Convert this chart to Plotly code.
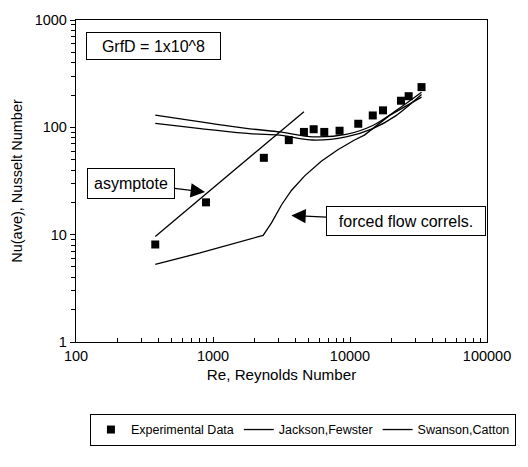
import plotly.graph_objects as go

# Measured average Nusselt numbers vs Reynolds number
re_exp = [379, 889, 2350, 3575, 4610, 5430, 6490, 8390, 11490, 14660, 17410, 23550, 26800, 33270]
nu_exp = [8.1, 20, 52, 76, 90.6, 96, 90.6, 93, 108, 129, 144, 177, 195, 237]

# Mixed-convection correlations
re_jackson = [379, 1858, 3069, 5360, 9370, 14660, 21680, 33270]
nu_jackson = [130, 96.9, 90.7, 81.6, 85.9, 104, 143, 212]

re_swanson = [379, 1858, 3069, 5360, 9370, 14660, 21680, 33270]
nu_swanson = [109, 87.3, 84.6, 76.2, 81.6, 97.3, 128.5, 202]

# Forced flow correlation (laminar branch, then turbulent branch)
re_forced = [379, 804, 2323, 2673, 3160, 3733, 4667, 6170, 8150, 10790, 12740, 19360, 33270]
nu_forced = [5.3, 6.76, 9.85, 12.9, 18.9, 25.8, 35.3, 48.4, 61.8, 76.2, 84.6, 128.5, 191]

# Low-Re asymptote
re_asym = [379, 4610]
nu_asym = [9.6, 140]

FONT = "Liberation Sans, Arial, Helvetica, sans-serif"
LW = 1.3


def minor_ticks(first_decade, last_decade):
    """Positions 2..9 x 10^k on a log axis."""
    return [m * 10 ** k for k in range(first_decade, last_decade) for m in range(2, 10)]


fig = go.Figure()

fig.add_trace(go.Scatter(
    x=re_exp, y=nu_exp, mode="markers", name="Experimental Data",
    marker=dict(symbol="square", size=8, color="black"),
))
fig.add_trace(go.Scatter(
    x=re_jackson, y=nu_jackson, mode="lines", name="Jackson,Fewster",
    line=dict(color="black", width=LW, shape="spline", smoothing=0.8),
))
fig.add_trace(go.Scatter(
    x=re_swanson, y=nu_swanson, mode="lines", name="Swanson,Catton",
    line=dict(color="black", width=LW, shape="spline", smoothing=0.8),
))
fig.add_trace(go.Scatter(
    x=re_forced, y=nu_forced, mode="lines", showlegend=False,
    line=dict(color="black", width=LW),
))
fig.add_trace(go.Scatter(
    x=re_asym, y=nu_asym, mode="lines", showlegend=False,
    line=dict(color="black", width=LW),
))

annot_font = dict(family=FONT, size=16, color="black")
fig.add_annotation(
    xref="paper", yref="paper", x=0.188, y=0.918,
    xanchor="center", yanchor="middle",
    text="GrfD = 1x10^8", showarrow=False, font=annot_font,
    bordercolor="black", borderwidth=1, borderpad=0, width=133, height=26,
    bgcolor="white",
)
fig.add_annotation(
    x=2.942, y=1.397, xref="x", yref="y",
    text="asymptote", showarrow=True, ax=-74, ay=-8.8,
    arrowhead=2, arrowsize=2.4, arrowwidth=1.2, arrowcolor="black",
    font=annot_font, bordercolor="black", borderwidth=1, borderpad=0,
    width=86, height=29, bgcolor="white",
)
fig.add_annotation(
    x=3.572, y=1.179, xref="x", yref="y",
    text="forced flow correls.", showarrow=True, ax=114.3, ay=5.7,
    arrowhead=2, arrowsize=2.4, arrowwidth=1.2, arrowcolor="black",
    font=annot_font, bordercolor="black", borderwidth=1, borderpad=0,
    width=158, height=28, bgcolor="white",
)

fig.update_layout(
    width=528, height=467,
    margin=dict(l=76, r=40, t=12, b=125),
    paper_bgcolor="white", plot_bgcolor="white",
    font=dict(family=FONT, size=14.5, color="black"),
    legend=dict(
        orientation="h", x=1.0704, xanchor="right", y=-0.273, yanchor="middle",
        bordercolor="black", borderwidth=1, bgcolor="white",
        font=dict(family=FONT, size=12.5, color="black"),
        tracegroupgap=0, itemwidth=30,
    ),
)

fig.update_xaxes(
    type="log", range=[2, 5], dtick=1, tickformat="d",
    ticks="inside", ticklen=5, tickwidth=1.3, tickcolor="black",
    minor=dict(tickmode="array", tickvals=minor_ticks(2, 5),
               ticks="inside", ticklen=3.5, tickwidth=1.3, tickcolor="black"),
    showline=True, linecolor="black", linewidth=1.3, mirror=True,
    showgrid=False, zeroline=False,
    title=dict(text="Re, Reynolds Number", standoff=6, font=dict(size=15.2)),
)
fig.update_yaxes(
    type="log", range=[0, 3], dtick=1, tickformat="d",
    ticks="outside", ticklen=5, tickwidth=1.3, tickcolor="black",
    minor=dict(tickmode="array", tickvals=minor_ticks(0, 3),
               ticks="outside", ticklen=3.5, tickwidth=1.3, tickcolor="black"),
    showline=True, linecolor="black", linewidth=1.3, mirror=True,
    showgrid=False, zeroline=False,
    title=dict(text="Nu(ave), Nusselt Number", standoff=8, font=dict(size=14.5)),
)

fig.write_html("out.html")
